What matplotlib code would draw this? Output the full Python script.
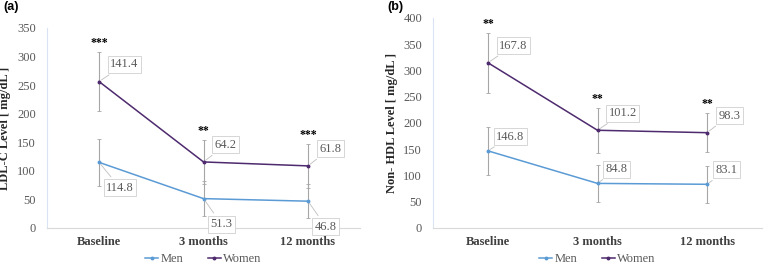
import matplotlib.pyplot as plt
import numpy as np

# time points
groups = ['Baseline', '3 months', '12 months']

# panel (a) LDL-C, stacked line (women drawn on top of men)
ldl_men = [114.8, 51.3, 46.8]
ldl_women = [141.4, 64.2, 61.8]
ldl_men_err = [41, 30, 30]
ldl_women_err = [51, 38, 39]
ldl_stars = ['***', '**', '***']

# panel (b) Non-HDL
nhdl_men = [146.8, 84.8, 83.1]
nhdl_women = [167.8, 101.2, 98.3]
nhdl_men_err = [46, 36, 35]
nhdl_women_err = [57, 43, 37]
nhdl_stars = ['**', '**', '**']

men_col = '#5b9bd5'
women_col = '#4e2a6e'
err_col = '#a6a6a6'
txt_col = '#595959'

plt.rcParams['font.family'] = ['Liberation Serif', 'DejaVu Serif']


def draw_panel(ax, men, women, men_err, women_err, stars, ymax, ylabel, men_below):
    x = np.arange(len(groups))
    men = np.array(men)
    top = men + np.array(women)   # stacked series

    ax.errorbar(x, men, yerr=men_err, fmt='none', ecolor=err_col, elinewidth=0.8,
                capsize=1.5, capthick=0.6, zorder=1)
    ax.errorbar(x, top, yerr=women_err, fmt='none', ecolor=err_col, elinewidth=0.8,
                capsize=1.5, capthick=0.6, zorder=1)
    ax.plot(x, men, color=men_col, lw=1.1, marker='o', ms=1.8, label='Men', zorder=3)
    ax.plot(x, top, color=women_col, lw=1.1, marker='o', ms=1.8, label='Women', zorder=3)

    box = dict(boxstyle='square,pad=0.2', fc='white', ec='#d0d0d0', lw=0.6)
    arrow = dict(arrowstyle='-', color='#bfbfbf', lw=0.6)
    for i in range(len(groups)):
        ax.annotate(f'{women[i]:.1f}', (x[i], top[i]), xytext=(8, 8),
                    textcoords='offset points', fontsize=9, color=txt_col,
                    bbox=box, arrowprops=arrow, va='bottom', ha='left')
        if men_below:
            ax.annotate(f'{men[i]:.1f}', (x[i], men[i]), xytext=(5, -14),
                        textcoords='offset points', fontsize=9, color=txt_col,
                        bbox=box, arrowprops=arrow, va='top', ha='left')
        else:
            ax.annotate(f'{men[i]:.1f}', (x[i], men[i]), xytext=(6, 6),
                        textcoords='offset points', fontsize=9, color=txt_col,
                        bbox=box, arrowprops=arrow, va='bottom', ha='left')
        ax.text(x[i], top[i] + women_err[i] + ymax * 0.015, stars[i], ha='center',
                va='bottom', fontsize=8.5, fontweight='bold', color='black')

    ax.set_xlim(-0.5, len(groups) - 0.5)
    ax.set_ylim(0, ymax)
    ax.set_yticks(np.arange(0, ymax + 1, 50))
    ax.set_xticks(x)
    ax.set_xticklabels(groups, fontweight='bold', fontsize=9, color='#404040')
    ax.tick_params(axis='y', labelsize=9, labelcolor=txt_col, length=0, pad=8)
    ax.tick_params(axis='x', length=0, pad=6)
    ax.set_ylabel(ylabel, fontweight='bold', fontsize=9, color='#262626', labelpad=4)
    for s in ['top', 'right']:
        ax.spines[s].set_visible(False)
    ax.spines['left'].set_color('#dae3f3')
    ax.spines['bottom'].set_color('#d9d9d9')
    h = ax.get_position().height * 280
    ax.legend(loc='center', bbox_to_anchor=(0.5, -31 / h), ncol=2, frameon=False,
              fontsize=9, handlelength=1.0, handletextpad=0.2, columnspacing=2.0,
              labelcolor=txt_col)


fig = plt.figure(figsize=(7.68, 2.8), dpi=100)
ax1 = fig.add_axes([0.061, 0.186, 0.408, 0.714])
ax2 = fig.add_axes([0.564, 0.186, 0.428, 0.750])

draw_panel(ax1, ldl_men, ldl_women, ldl_men_err, ldl_women_err, ldl_stars, 350,
           'LDL-C Level [ mg/dL ]', True)
draw_panel(ax2, nhdl_men, nhdl_women, nhdl_men_err, nhdl_women_err, nhdl_stars, 400,
           'Non- HDL Level [ mg/dL ]', False)

fig.text(0.005, 0.965, '(a)', fontsize=9, fontweight='bold', family='Liberation Sans')
fig.text(0.505, 0.965, '(b)', fontsize=9, fontweight='bold', family='Liberation Sans')

plt.savefig('out.png', dpi=100)
